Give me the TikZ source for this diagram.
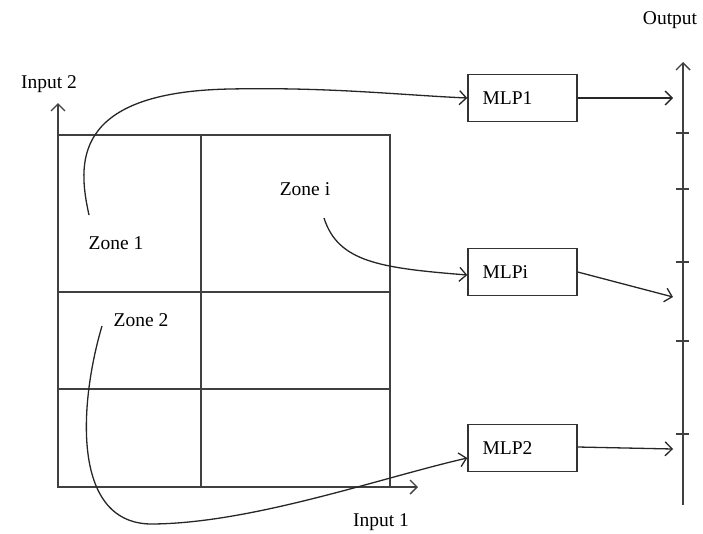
\documentclass[tikz,border=0pt]{standalone}
\usepackage{fontspec}
\setmainfont{Liberation Serif}
\usetikzlibrary{arrows.meta}
\begin{document}
\begin{tikzpicture}[x=1pt,y=-1pt,
  every node/.style={font=\fontsize{19.5}{22}\selectfont},
  gridline/.style={line width=1.6pt,draw=black!75},
  axis/.style={line width=1.6pt,draw=black!75,-{Straight Barb[length=7pt,width=14pt,line width=1.4pt]}},
  conn/.style={line width=1.3pt,draw=black!85,-{Straight Barb[length=7pt,width=14pt,line width=1.3pt]}},
  mlpbox/.style={draw=black!80,line width=1.4pt,minimum height=47pt,text width=80pt,inner xsep=14.5pt,align=left},
  lbl/.style={inner sep=0pt}]
\useasboundingbox (0,0) rectangle (703,533);
% grid
\draw[gridline] (58,135) rectangle (390,487);
\draw[gridline] (201,135) -- (201,487);
\draw[gridline] (58,292) -- (390,292);
\draw[gridline] (58,389) -- (390,389);
% axes
\coordinate (o) at (58,487);
\coordinate (in2end) at (58,103);
\coordinate (in1end) at (418,487);
\draw[axis] (o) -- (in2end);
\draw[axis] (o) -- (in1end);
\node[lbl] (in2) at (49,84) {Input 2};
\node[lbl] (in1) at (381,522) {Input 1};
% output axis
\coordinate (outb) at (683,505);
\coordinate (outt) at (683,62);
\draw[axis] (outb) -- (outt);
\node[lbl] (outl) at (670,20) {Output};
\foreach \t in {133,189,262,341,434} \draw[gridline] (676,\t) -- (689,\t);
% MLP boxes
\node[mlpbox] (m1) at (522.5,98) {MLP1};
\node[mlpbox] (mi) at (522.5,272) {MLPi};
\node[mlpbox] (m2) at (522.5,448) {MLP2};
% outputs
\coordinate (o1) at (673,98);
\coordinate (oi) at (673,297);
\coordinate (o2) at (673,449);
\draw[conn] (m1.east) -- (o1);
\draw[conn] (mi.east) -- (oi);
\draw[conn] ([yshift=1pt]m2.east) -- (o2);
% zones
\node[lbl] (z1) at (116,243) {Zone 1};
\node[lbl] (zi) at (305,189) {Zone i};
\node[lbl] (z2) at (141,320) {Zone 2};
\coordinate (z1s) at (89,215);
\coordinate (zis) at (324,218);
\coordinate (z2s) at (102,326);
\draw[conn] (z1s) .. controls (78,165) and (70,92) .. (230,89)
  .. controls (330,87) and (400,95) .. (m1.west);
\draw[conn] (zis) .. controls (338,262) and (380,268) .. ([yshift=-3pt]mi.west);
\draw[conn] (z2s) .. controls (80,400) and (70,522) .. (150,524)
  .. controls (250,524) and (380,478) .. ([yshift=-10pt]m2.west);
\end{tikzpicture}
\end{document}
